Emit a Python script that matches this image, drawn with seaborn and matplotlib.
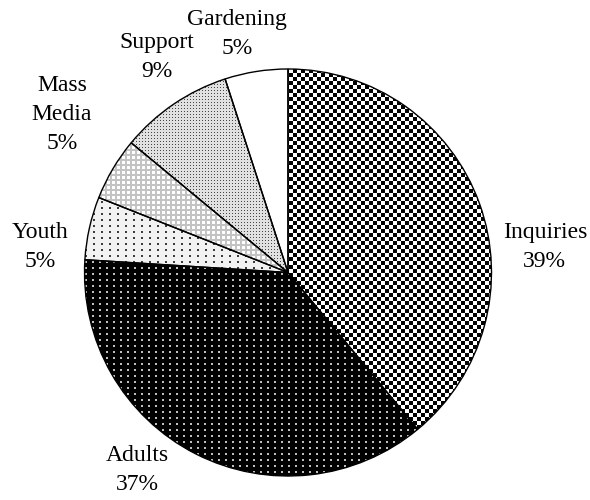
import numpy as np
import matplotlib
matplotlib.use("Agg")
import matplotlib.pyplot as plt
import seaborn as sns

# ---- data ----
categories = ["Inquiries", "Adults", "Youth", "Mass\nMedia", "Support", "Gardening"]
shares = [39, 37, 5, 5, 9, 5]
pct_labels = ["39%", "37%", "5%", "5%", "9%", "5%"]

sns.set_theme(style="white")
plt.rcParams["font.family"] = ["Liberation Serif", "DejaVu Serif"]

W, H = 590, 500
fig = plt.figure(figsize=(W / 100, H / 100), dpi=100)
cx, cy, R = 288, 272.5, 203.5
ax = fig.add_axes([(cx - R) / W, (H - cy - R) / H, 2 * R / W, 2 * R / H])

wedges, _ = ax.pie(shares, startangle=90, counterclock=False, radius=1,
                   colors=["none"] * len(shares),
                   wedgeprops=dict(edgecolor="black", linewidth=1.0, zorder=3))

# ---- fill patterns (pixel based) ----
N = int(round(2 * R))
yy, xx = np.mgrid[0:N, 0:N]

def rgb(mask_dark, bg, fg):
    img = np.empty((N, N, 3))
    img[:] = np.array(bg) / 255.0
    img[mask_dark] = np.array(fg) / 255.0
    return img

checker = ((xx // 4 + yy // 4) % 2 == 0)
p_inq = rgb(checker, (255, 255, 255), (0, 0, 0))
dots_adult = ((xx % 7) < 2) & ((yy % 6) < 2)
p_adu = rgb(dots_adult, (0, 0, 0), (190, 190, 190))
dots_youth = ((xx % 8) < 2) & ((yy % 6) < 2)
p_you = rgb(dots_youth, (242, 242, 242), (60, 60, 60))
grid_mm = ((xx % 5) < 2) | ((yy % 5) < 2)
p_mm = rgb(grid_mm, (255, 255, 255), (195, 195, 195))
dots_sup = ((xx % 3) == 0) & ((yy % 3) == 0)
p_sup = rgb(dots_sup, (225, 225, 225), (70, 70, 70))
p_gar = rgb(np.zeros((N, N), bool), (255, 255, 255), (255, 255, 255))

patterns = [p_inq, p_adu, p_you, p_mm, p_sup, p_gar]
for w, pat in zip(wedges, patterns):
    im = ax.imshow(pat, extent=(-1, 1, -1, 1), interpolation="nearest",
                   origin="upper", zorder=1)
    im.set_clip_path(w)

ax.set_xlim(-1, 1)
ax.set_ylim(-1, 1)
ax.set_aspect("equal")
ax.axis("off")

# ---- labels ----
label_pos = [(1.262, 0.125), (-0.742, -0.971), (-1.219, 0.123),
             (-1.111, 0.774), (-0.644, 1.057), (-0.251, 1.174)]
for cat, pct, (lx, ly) in zip(categories, pct_labels, label_pos):
    ax.text(lx, ly, f"{cat}\n{pct}", ha="center", va="center",
            fontsize=17, linespacing=1.5, color="black", clip_on=False)

fig.savefig("out.png", dpi=100, facecolor="white")
